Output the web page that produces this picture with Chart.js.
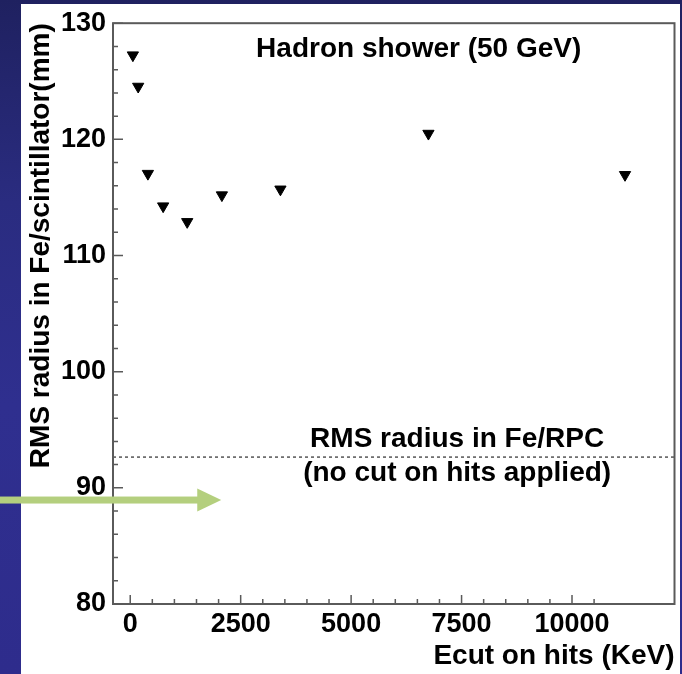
<!DOCTYPE html>
<html>
<head>
<meta charset="utf-8">
<script src="https://cdn.jsdelivr.net/npm/chart.js@4.4.1/dist/chart.umd.min.js"></script>
<style>
  html, body { margin: 0; padding: 0; }
  body {
    width: 682px; height: 674px; position: relative; overflow: hidden;
    background: linear-gradient(to bottom, #1f2160 0%, #2a2c80 30%, #2f2f8f 60%, #2e2c8c 100%);
  }
  #paper { position: absolute; left: 21px; top: 4px; width: 659px; height: 670px; background: #fff; }
  #chart { position: absolute; left: 0; top: 0; }
</style>
</head>
<body>
<div id="paper"></div>
<canvas id="chart" width="682" height="674"></canvas>
<script>
// Ecut (KeV) and RMS radius (mm)
const ecutValues = [60, 180, 400, 745, 1290, 2075, 3400, 6750, 11200];
const rmsScint = [127.25, 124.55, 117.05, 114.25, 112.9, 115.2, 115.7, 120.5, 116.95];
const rmsRpc = 92.65;
const xTicks = [0, 2500, 5000, 7500, 10000];
const yTicks = [80, 90, 100, 110, 120, 130];
const xRange = [-390, 12320];
const yRange = [80, 130];

const FONT = "'Liberation Sans', Arial, Helvetica, sans-serif";

// Frame, inward ticks, text labels and the slide arrow
const decorations = {
  id: "decorations",
  afterDatasetsDraw(chart) {
    const { ctx, chartArea: a, scales: { x, y } } = chart;
    ctx.save();
    ctx.strokeStyle = "#5a5a5a";
    ctx.lineWidth = 2;
    ctx.strokeRect(a.left, a.top, a.right - a.left, a.bottom - a.top);

    ctx.lineWidth = 1.5;
    ctx.beginPath();
    for (let v = 0; v <= 10500; v += 500) {
      const px = x.getPixelForValue(v);
      const len = v % 2500 === 0 ? 9 : 5;
      ctx.moveTo(px, a.bottom);
      ctx.lineTo(px, a.bottom - len);
    }
    for (let v = yRange[0]; v <= yRange[1]; v += 2) {
      const py = y.getPixelForValue(v);
      const len = v % 10 === 0 ? 10 : 5;
      ctx.moveTo(a.left, py);
      ctx.lineTo(a.left + len, py);
    }
    ctx.stroke();

    ctx.fillStyle = "#000";
    ctx.font = "bold 28px " + FONT;
    ctx.textAlign = "center";
    ctx.textBaseline = "alphabetic";
    ctx.fillText("Hadron shower (50 GeV)", x.getPixelForValue(6530), y.getPixelForValue(127.1));
    ctx.fillText("RMS radius in Fe/RPC", x.getPixelForValue(7400), y.getPixelForValue(93.5));
    ctx.fillText("(no cut on hits applied)", x.getPixelForValue(7400), y.getPixelForValue(90.6));

    // green arrow pointing at the Fe/RPC level
    const ay = y.getPixelForValue(88.95);
    const tip = x.getPixelForValue(2060);
    ctx.fillStyle = "#b4cf7e";
    ctx.fillRect(0, ay - 3.5, tip - 22, 7);
    ctx.beginPath();
    ctx.moveTo(tip - 24, ay - 11.5);
    ctx.lineTo(tip, ay);
    ctx.lineTo(tip - 24, ay + 11.5);
    ctx.closePath();
    ctx.fill();
    ctx.restore();
  }
};

const ctx = document.getElementById("chart").getContext("2d");
new Chart(ctx, {
  type: "scatter",
  data: {
    datasets: [
      {
        label: "Fe/scintillator",
        data: ecutValues.map((e, i) => ({ x: e, y: rmsScint[i] })),
        pointStyle: "triangle",
        rotation: 180,
        radius: 6.5,
        borderWidth: 1,
        borderColor: "#000",
        backgroundColor: "#000",
      },
      {
        label: "Fe/RPC",
        type: "line",
        data: [{ x: xRange[0], y: rmsRpc }, { x: xRange[1], y: rmsRpc }],
        borderColor: "#000",
        borderWidth: 1,
        borderDash: [3, 3],
        pointRadius: 0,
        fill: false,
      },
    ],
  },
  options: {
    responsive: false,
    animation: false,
    layout: { padding: { left: 0, right: 3, top: 23, bottom: 0 } },
    plugins: { legend: { display: false }, tooltip: { enabled: false } },
    scales: {
      x: {
        type: "linear",
        min: xRange[0],
        max: xRange[1],
        afterBuildTicks: (s) => { s.ticks = xTicks.map((v) => ({ value: v })); },
        afterFit: (s) => { s.height = 70; },
        grid: { display: false, drawTicks: false },
        border: { display: false },
        ticks: {
          color: "#000",
          padding: 4,
          maxRotation: 0,
          callback: (v) => String(v),
          font: { family: FONT, size: 27, weight: "bold" },
        },
        title: {
          display: true,
          text: "Ecut on hits (KeV)",
          align: "end",
          color: "#000",
          padding: { top: 0, bottom: 1 },
          font: { family: FONT, size: 28, weight: "bold" },
        },
      },
      y: {
        type: "linear",
        min: yRange[0],
        max: yRange[1],
        afterBuildTicks: (s) => { s.ticks = yTicks.map((v) => ({ value: v })); },
        afterFit: (s) => { s.width = 113; },
        grid: { display: false, drawTicks: false },
        border: { display: false },
        ticks: {
          color: "#000",
          padding: 7,
          callback: (v) => String(v),
          font: { family: FONT, size: 27, weight: "bold" },
        },
        title: {
          display: true,
          text: "RMS radius in Fe/scintillator(mm)",
          align: "end",
          color: "#000",
          padding: { top: 24, bottom: 0 },
          font: { family: FONT, size: 28, weight: "bold" },
        },
      },
    },
  },
  plugins: [decorations],
});
</script>
</body>
</html>
